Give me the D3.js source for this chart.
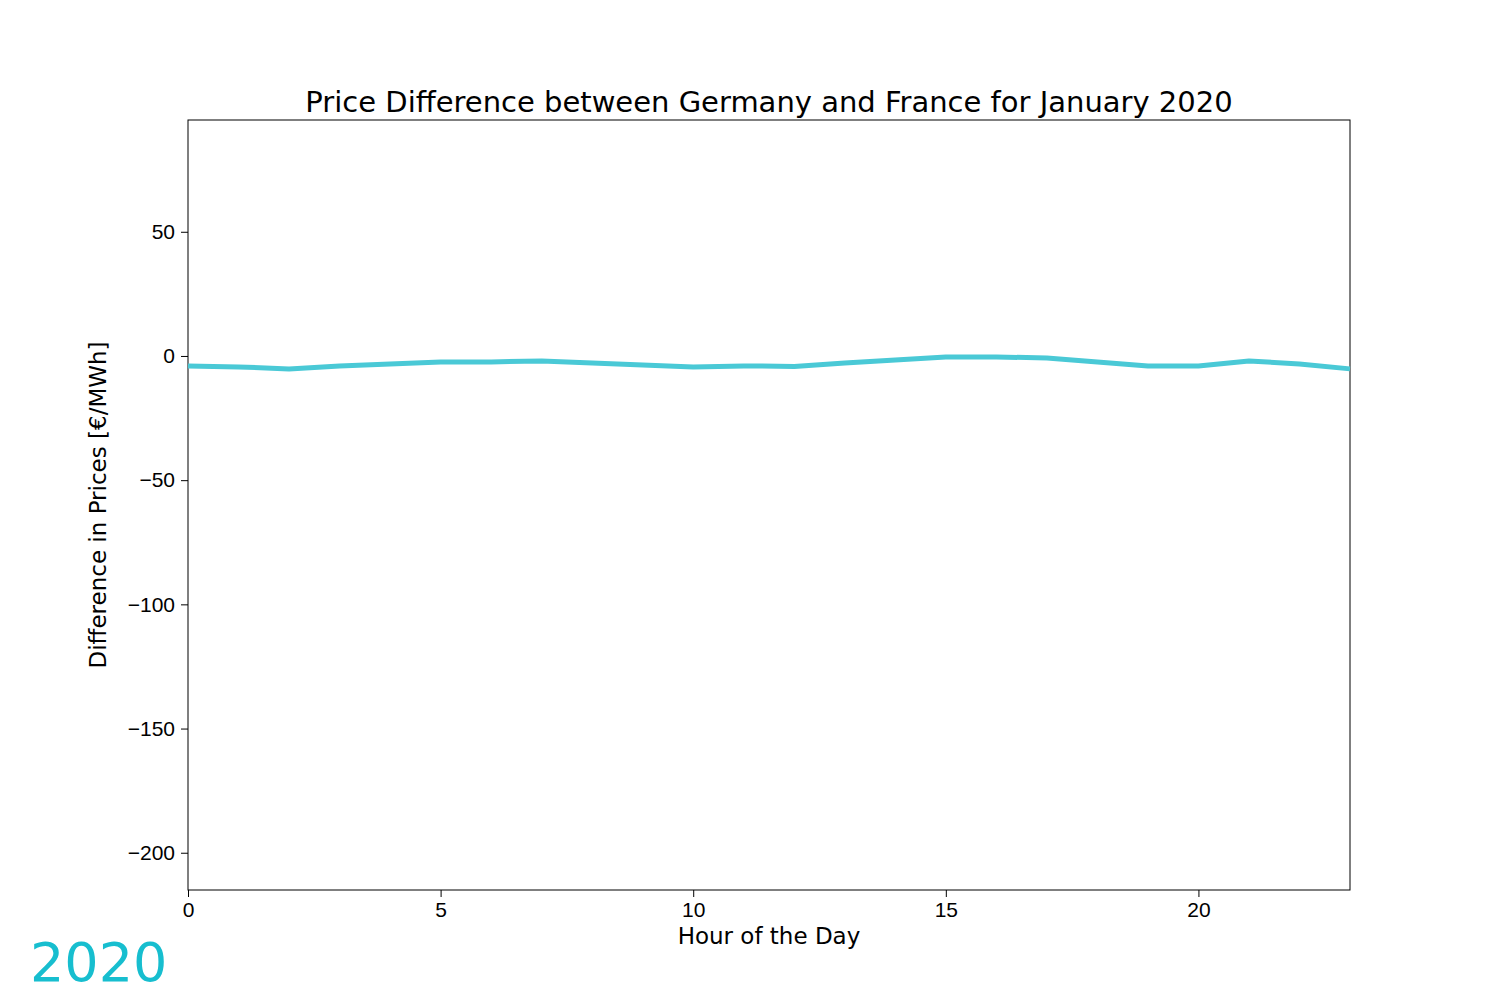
<!DOCTYPE html>
<html>
<head>
<meta charset="utf-8">
<script src="https://cdn.jsdelivr.net/npm/d3@7"></script>
<style>
  body { margin: 0; background: #fff; }
  svg { font-family: "DejaVu Sans", sans-serif; }
</style>
</head>
<body>
<svg id="chart" width="1500" height="1000"></svg>
<script>
const hours = d3.range(0, 24)
const priceDiff = [-4, -4.4, -5.2, -4, -3.2, -2.4, -2.4, -2, -2.8, -3.6, -4.4, -4, -4.2,
    -2.8, -1.6, -0.4, -0.4, -0.8, -2.4, -4, -4, -2, -3.2, -5.2]
const xTicks = [0, 5, 10, 15, 20]
const yTicks = [50, 0, -50, -100, -150, -200]

const plotLeft = 188, plotRight = 1350, plotTop = 120, plotBottom = 890
const svg = d3.select('#chart')

let x = d3.scaleLinear().domain([0, 23]).range([plotLeft, plotRight])
let y = d3.scaleLinear().domain([-215, 95]).range([plotBottom, plotTop])

// axes
let xAxis = svg.append('g')
    .attr('transform', 'translate(0,' + plotBottom + ')')
    .call(d3.axisBottom(x).tickValues(xTicks).tickSize(7).tickPadding(5))
let yAxis = svg.append('g')
    .attr('transform', 'translate(' + plotLeft + ',0)')
    .call(d3.axisLeft(y).tickValues(yTicks).tickSize(7).tickPadding(6)
        .tickFormat(d => d < 0 ? '\u2212' + Math.abs(d) : d))
for (let a of [xAxis, yAxis]) {
    a.selectAll('text').style('font-size', '21px').style('fill', '#000')
    a.selectAll('line').style('stroke', '#000')
    a.select('.domain').remove()
}

// frame
svg.append('rect')
    .attr('x', plotLeft).attr('y', plotTop)
    .attr('width', plotRight - plotLeft).attr('height', plotBottom - plotTop)
    .style('fill', 'none').style('stroke', '#000').style('stroke-width', 1)

// line
svg.append('path')
    .datum(hours)
    .attr('d', d3.line().x(d => x(d)).y(d => y(priceDiff[d])))
    .style('fill', 'none')
    .style('stroke', '#4ac9d6')
    .style('stroke-width', 5)
    .style('stroke-linejoin', 'round')

// labels
svg.append('text')
    .attr('x', (plotLeft + plotRight) / 2).attr('y', 112)
    .attr('text-anchor', 'middle')
    .style('font-size', '29px')
    .text('Price Difference between Germany and France for January 2020')
svg.append('text')
    .attr('x', (plotLeft + plotRight) / 2).attr('y', 944)
    .attr('text-anchor', 'middle')
    .style('font-size', '23px')
    .text('Hour of the Day')
svg.append('text')
    .attr('transform', 'translate(106,' + ((plotTop + plotBottom) / 2) + ') rotate(-90)')
    .attr('text-anchor', 'middle')
    .style('font-size', '23px')
    .text('Difference in Prices [€/MWh]')
svg.append('text')
    .attr('x', 30).attr('y', 981)
    .style('font-size', '54px')
    .style('fill', '#17becf')
    .text('2020')
</script>
</body>
</html>
